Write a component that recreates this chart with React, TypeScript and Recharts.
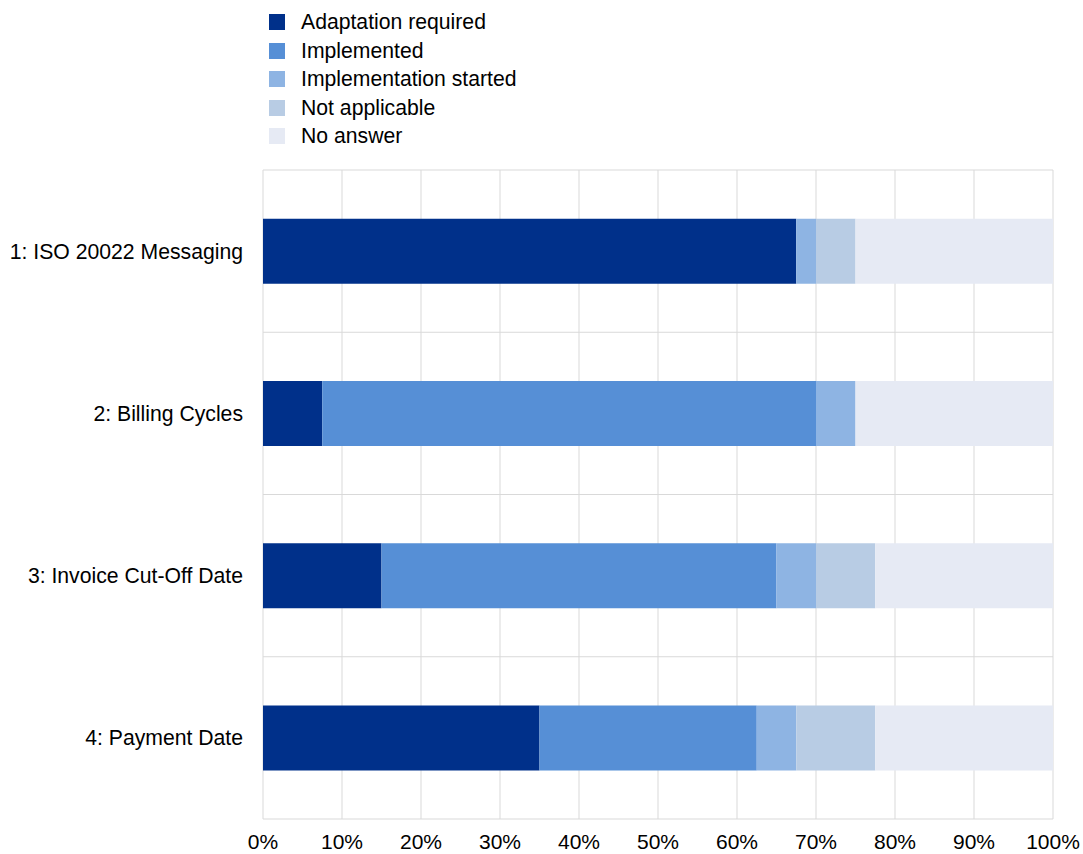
import React from 'react';
import { BarChart, Bar, XAxis, YAxis, CartesianGrid, Legend } from 'recharts';

const categories = [
  '1: ISO 20022 Messaging',
  '2: Billing Cycles',
  '3: Invoice Cut-Off Date',
  '4: Payment Date',
];
const adaptationRequired = [67.5, 7.5, 15, 35];
const implemented = [0, 62.5, 50, 27.5];
const implementationStarted = [2.5, 5, 5, 5];
const notApplicable = [5, 0, 7.5, 10];
const noAnswer = [25, 25, 22.5, 22.5];
const xTicks = [0, 10, 20, 30, 40, 50, 60, 70, 80, 90, 100];

const seriesKeys = ['adaptation', 'implemented', 'started', 'notApplicable', 'noAnswer'];
const seriesNames = [
  'Adaptation required',
  'Implemented',
  'Implementation started',
  'Not applicable',
  'No answer',
];
const seriesColors = ['#00308A', '#568FD6', '#8EB4E3', '#B8CCE4', '#E6EAF4'];
const seriesValues = [adaptationRequired, implemented, implementationStarted, notApplicable, noAnswer];

const data = categories.map((name, i) => {
  const row: Record<string, any> = { name };
  seriesKeys.forEach((k, s) => {
    row[k] = seriesValues[s][i];
  });
  return row;
});

const FONT = '"Liberation Sans", Arial, sans-serif';

const LegendContent = () => (
  <div style={{ height: 150, fontFamily: FONT, fontSize: 21.2, color: '#000' }}>
    {seriesNames.map((n, i) => (
      <div key={n} style={{ height: 28.5, display: 'flex', alignItems: 'center' }}>
        <span
          style={{
            display: 'inline-block',
            width: 16,
            height: 16,
            background: seriesColors[i],
            marginRight: 16,
          }}
        />
        <span style={{ lineHeight: '28.5px' }}>{n}</span>
      </div>
    ))}
  </div>
);

export default function App() {
  return (
    <div style={{ position: 'absolute', left: 0, top: 0, background: '#fff' }}>
      <BarChart
        width={1083}
        height={854}
        data={data}
        layout="vertical"
        margin={{ top: 20, right: 30, bottom: 0, left: 0 }}
        barCategoryGap="30%"
      >
        <Legend
          verticalAlign="top"
          align="left"
          layout="horizontal"
          content={LegendContent}
          wrapperStyle={{ top: 8, left: 269, width: 'auto' }}
        />
        <CartesianGrid
          stroke="#D9D9D9"
          horizontalCoordinatesGenerator={({ offset }: any) =>
            [0, 1, 2, 3, 4].map((i) => offset.top + (i * offset.height) / 4)
          }
        />
        <XAxis
          type="number"
          domain={[0, 100]}
          ticks={xTicks}
          tickFormatter={(v: number) => `${v}%`}
          axisLine={false}
          tickLine={false}
          tickSize={0}
          tickMargin={15}
          height={35}
          interval={0}
          tick={{ fill: '#000', fontSize: 21, fontFamily: FONT }}
        />
        <YAxis
          type="category"
          dataKey="name"
          width={263}
          axisLine={false}
          tickLine={false}
          tickSize={0}
          tickMargin={20}
          interval={0}
          tick={{ fill: '#000', fontSize: 21.2, fontFamily: FONT }}
        />
        {seriesKeys.map((k, i) => (
          <Bar
            key={k}
            dataKey={k}
            name={seriesNames[i]}
            stackId="a"
            fill={seriesColors[i]}
            isAnimationActive={false}
          />
        ))}
      </BarChart>
    </div>
  );
}
